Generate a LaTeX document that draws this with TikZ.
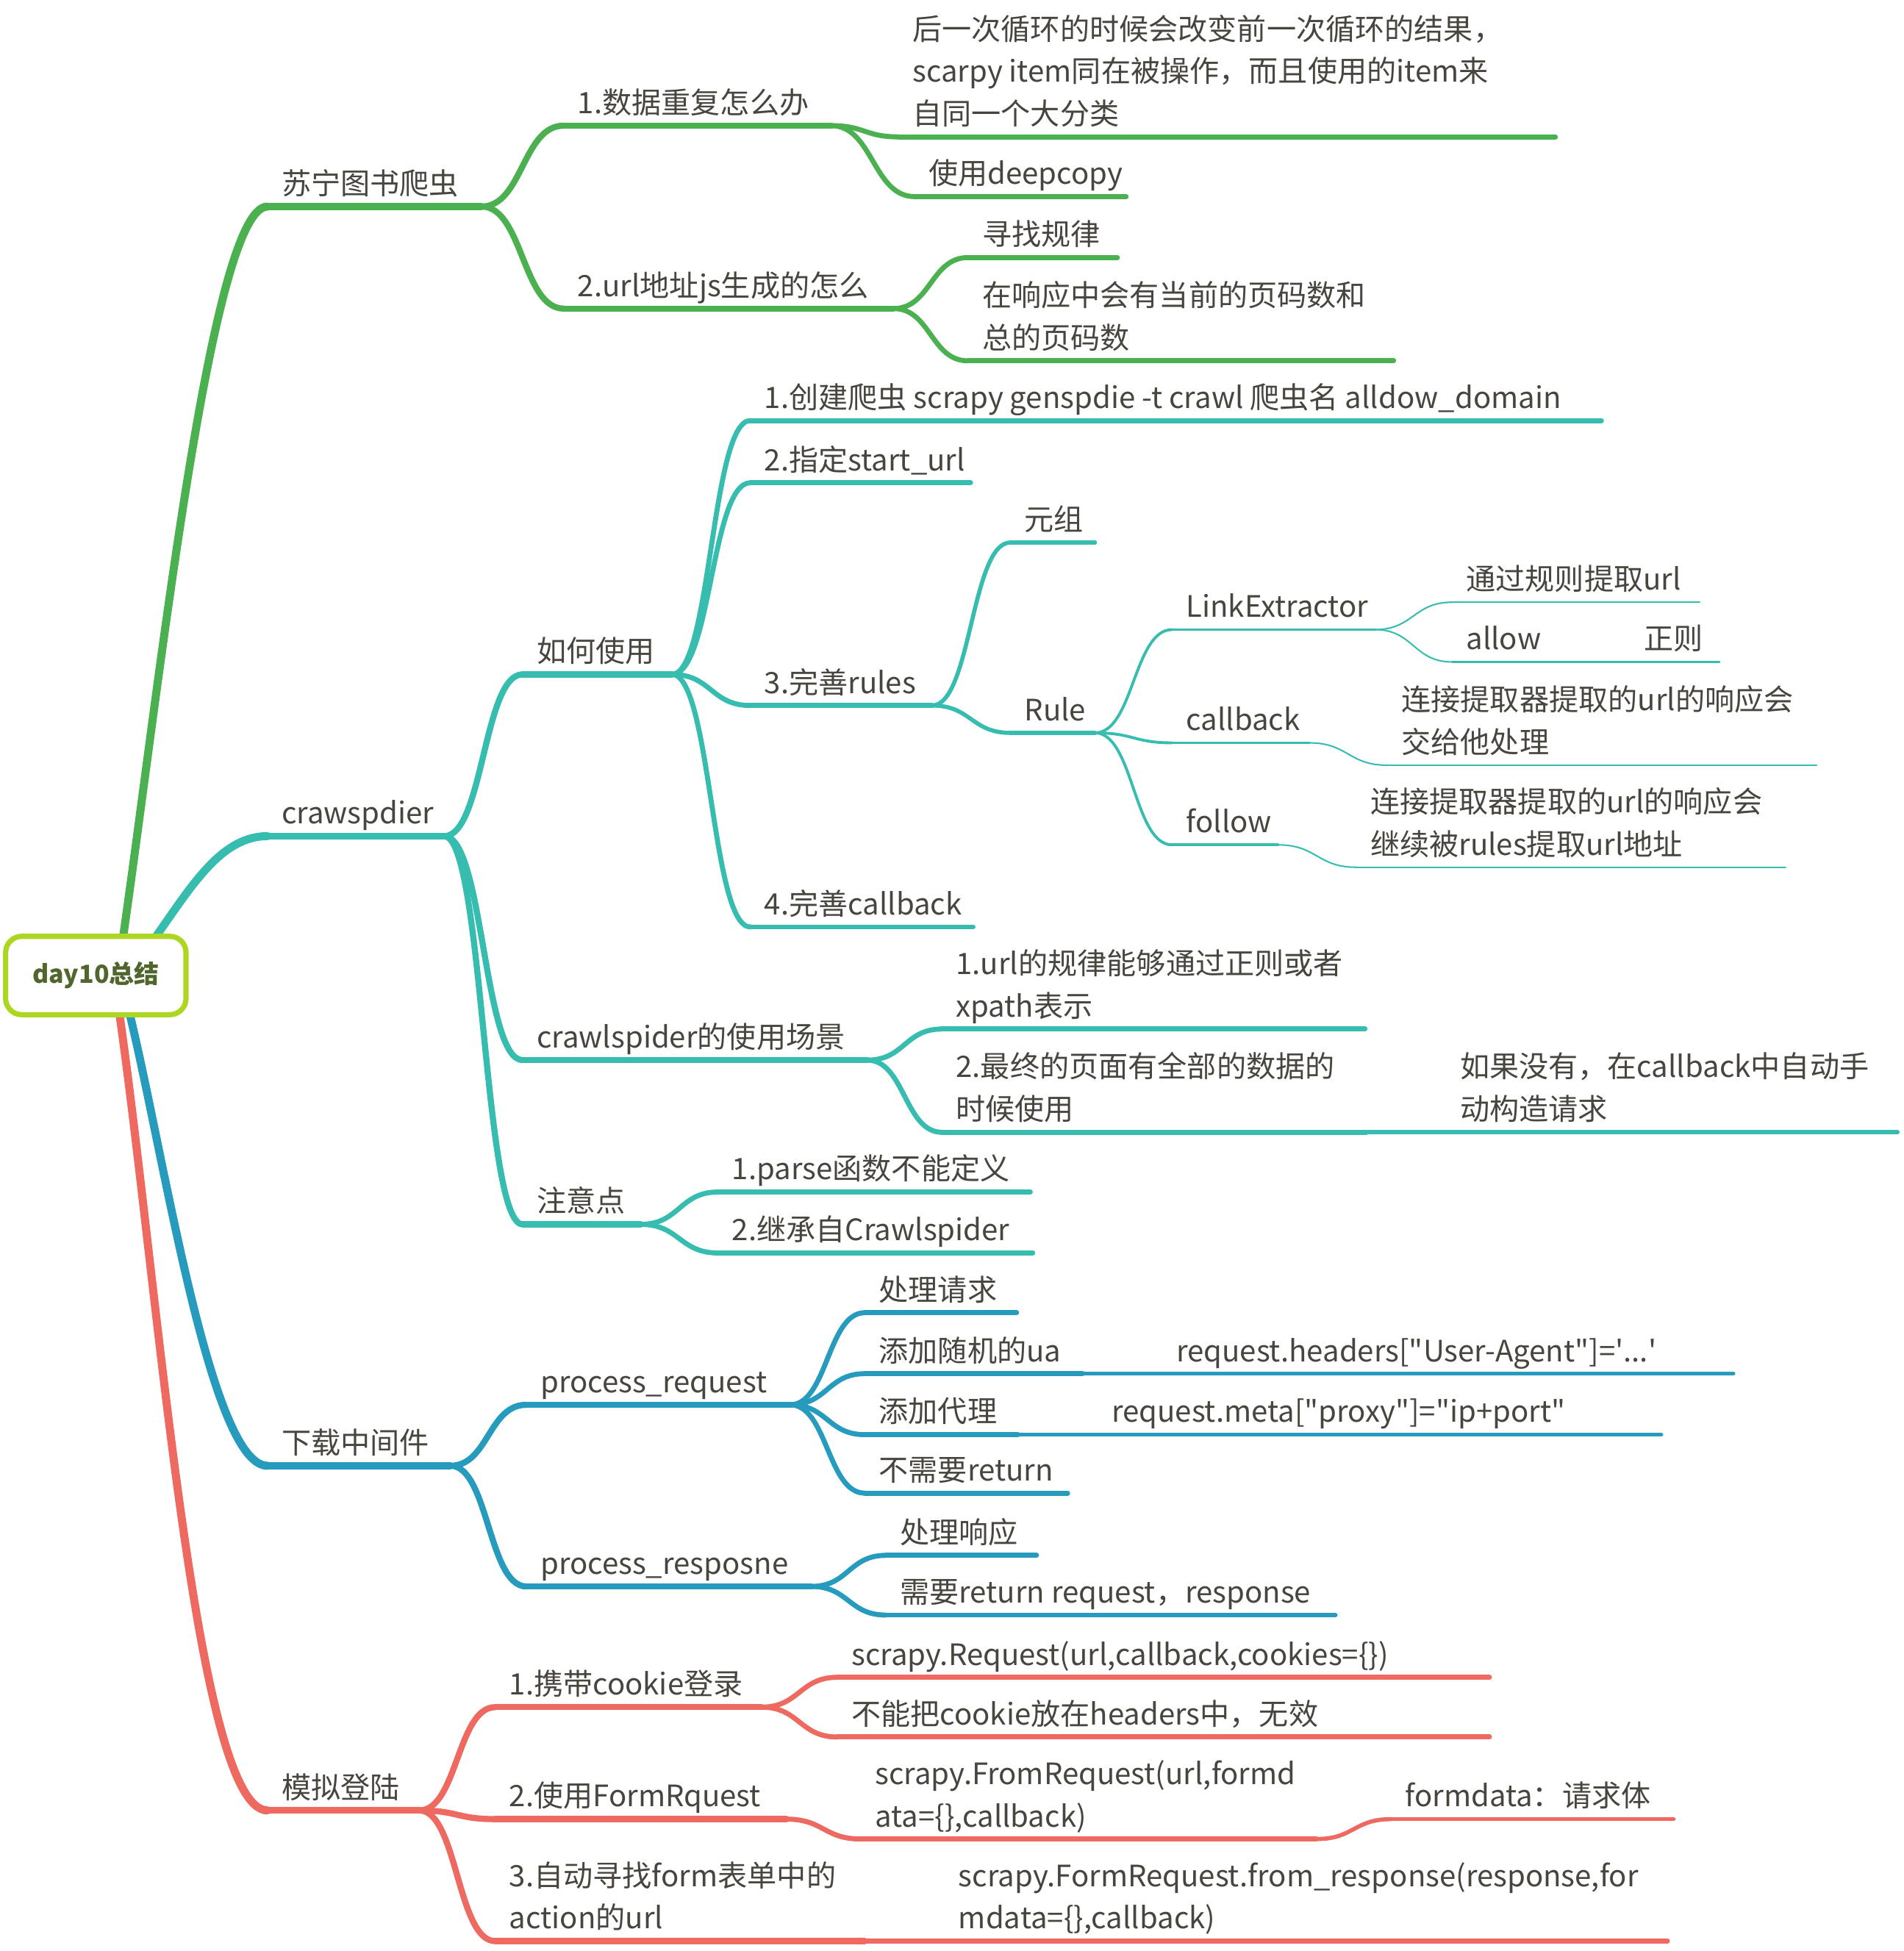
\documentclass[tikz,border=0pt]{standalone}
\usepackage{fontspec}
\setmainfont{Noto Sans CJK SC}
\usepackage{tikz}
\usetikzlibrary{calc,backgrounds}
\definecolor{ink}{RGB}{72,68,62}
\definecolor{brgreen}{RGB}{74,176,80}
\definecolor{brteal}{RGB}{55,188,176}
\definecolor{brblue}{RGB}{38,155,190}
\definecolor{brred}{RGB}{238,106,96}
\definecolor{rootline}{RGB}{173,214,35}
\definecolor{roottext}{RGB}{80,102,45}

\begin{document}
\begin{tikzpicture}[x=0.02cm,y=-0.02cm,font=\fontsize{13.5}{19.4}\selectfont,
  tx/.style={anchor=south west,inner xsep=0.22cm,inner ysep=0pt,align=left,text=ink,
    execute at end node={\rule[-5.4pt]{0pt}{5.4pt}}},
  far/.style={inner xsep=1.5cm},
  root/.style={draw=rootline,line width=2.4pt,rounded corners=0.26cm,fill=white,
    minimum width=2.9cm,minimum height=1.26cm,text=roottext,
    font=\fontsize{11.4}{14}\selectfont\bfseries},
  cv/.style={to path={let \p1=(\tikztostart),\p2=(\tikztotarget) in
    .. controls ({(\x1+\x2)/2},\y1) and ({(\x1+\x2)/2},\y2) .. (\tikztotarget)}},
  lr/.style={line width=3.7pt,line cap=round},
  l1/.style={line width=3.1pt,line cap=round},
  l2/.style={line width=2.8pt,line cap=round},
  l3/.style={line width=2.3pt,line cap=round},
  l4/.style={line width=1.9pt,line cap=round},
  l5/.style={line width=1.3pt,line cap=round},
  l6/.style={line width=0.7pt,line cap=round}]
  \useasboundingbox (0,0) rectangle (1530,1568);

  % centre
  \node[root] (root) at (77,784) {day10总结};
  \coordinate (rg) at ($(root.center)+(18,-4)$);
  \coordinate (rt) at ($(root.center)+(28,-4)$);
  \coordinate (rb) at ($(root.center)+(20,4)$);
  \coordinate (rr) at ($(root.center)+(15,4)$);

  % 苏宁图书爬虫
  \begin{scope}[color=brgreen]
  \node[tx] (g0) at (215,166) {苏宁图书爬虫};
  \draw[l1] (g0.south west) -- ++(172,0) coordinate (g0e);
  \node[tx] (g1) at (453,101) {1.数据重复怎么办};
  \draw[l2] (g1.south west) -- ++(215,0) coordinate (g1e);
  \node[tx] (g11) at (722,110) {后一次循环的时候会改变前一次循环的结果，\\scarpy item同在被操作，而且使用的item来\\自同一个大分类};
  \draw[l3] (g11.south west) -- ++(528,0) coordinate (g11e);
  \node[tx] (g12) at (735,158) {使用deepcopy};
  \draw[l3] (g12.south west) -- ++(170,0) coordinate (g12e);
  \node[tx] (g2) at (453,248) {2.url地址js生成的怎么};
  \draw[l2] (g2.south west) -- ++(265,0) coordinate (g2e);
  \node[tx] (g21) at (778,207) {寻找规律};
  \draw[l3] (g21.south west) -- ++(120,0) coordinate (g21e);
  \node[tx] (g22) at (778,290) {在响应中会有当前的页码数和\\总的页码数};
  \draw[l3] (g22.south west) -- ++(342,0) coordinate (g22e);
  \draw[l2] (g0e) to[cv] (g1.south west);
  \draw[l2] (g0e) to[cv] (g2.south west);
  \draw[l3] (g1e) to[cv] (g11.south west);
  \draw[l3] (g1e) to[cv] (g12.south west);
  \draw[l3] (g2e) to[cv] (g21.south west);
  \draw[l3] (g2e) to[cv] (g22.south west);
  \end{scope}

  % crawspdier
  \begin{scope}[color=brteal]
  \node[tx] (t0) at (215,672) {crawspdier};
  \draw[l1] (t0.south west) -- ++(142,0) coordinate (t0e);
  \node[tx] (t1) at (420,542) {如何使用};
  \draw[l2] (t1.south west) -- ++(120,0) coordinate (t1e);
  \node[tx] (t11) at (603,338) {1.创建爬虫 scrapy genspdie -t crawl 爬虫名 alldow\_domain};
  \draw[l3] (t11.south west) -- ++(684,0) coordinate (t11e);
  \node[tx] (t12) at (603,388) {2.指定start\_url};
  \draw[l3] (t12.south west) -- ++(177,0) coordinate (t12e);
  \node[tx] (t13) at (603,567) {3.完善rules};
  \draw[l3] (t13.south west) -- ++(146,0) coordinate (t13e);
  \node[tx] (t131) at (812,436) {元组};
  \draw[l4] (t131.south west) -- ++(68,0) coordinate (t131e);
  \node[tx] (t132) at (812,589) {Rule};
  \draw[l4] (t132.south west) -- ++(68,0) coordinate (t132e);
  \node[tx] (t1321) at (942,506) {LinkExtractor};
  \draw[l5] (t1321.south west) -- ++(163,0) coordinate (t1321e);
  \node[tx] (t13211) at (1167,484) {通过规则提取url};
  \draw[l6] (t13211.south west) -- ++(199,0) coordinate (t13211e);
  \node[tx] (t13212) at (1167,532) {\makebox[2.86cm][l]{allow}正则};
  \draw[l6] (t13212.south west) -- ++(215,0) coordinate (t13212e);
  \node[tx] (t1322) at (942,597) {callback};
  \draw[l5] (t1322.south west) -- ++(110,0) coordinate (t1322e);
  \node[tx] (t13221) at (1115,615) {连接提取器提取的url的响应会\\交给他处理};
  \draw[l6] (t13221.south west) -- ++(345,0) coordinate (t13221e);
  \node[tx] (t1323) at (942,679) {follow};
  \draw[l5] (t1323.south west) -- ++(85,0) coordinate (t1323e);
  \node[tx] (t13231) at (1090,697) {连接提取器提取的url的响应会\\继续被rules提取url地址};
  \draw[l6] (t13231.south west) -- ++(345,0) coordinate (t13231e);
  \node[tx] (t14) at (603,745) {4.完善callback};
  \draw[l3] (t14.south west) -- ++(179,0) coordinate (t14e);
  \node[tx] (t2) at (420,852) {crawlspider的使用场景};
  \draw[l2] (t2.south west) -- ++(277,0) coordinate (t2e);
  \node[tx] (t21) at (757,827) {1.url的规律能够通过正则或者\\xpath表示};
  \draw[l3] (t21.south west) -- ++(340,0) coordinate (t21e);
  \node[tx] (t22) at (757,910) {2.最终的页面有全部的数据的\\时候使用};
  \draw[l3] (t22.south west) -- ++(341,0) coordinate (t22e);
  \node[tx,far] (t221) at (t22e) {如果没有，在callback中自动手\\动构造请求};
  \draw[l4] (t221.south west) -- ++(427,0) coordinate (t221e);
  \node[tx] (t3) at (420,984) {注意点};
  \draw[l2] (t3.south west) -- ++(95,0) coordinate (t3e);
  \node[tx] (t31) at (577,958) {1.parse函数不能定义};
  \draw[l3] (t31.south west) -- ++(251,0) coordinate (t31e);
  \node[tx] (t32) at (577,1007) {2.继承自Crawlspider};
  \draw[l3] (t32.south west) -- ++(253,0) coordinate (t32e);
  \draw[l2] (t0e) to[cv] (t1.south west);
  \draw[l2] (t0e) to[cv] (t2.south west);
  \draw[l2] (t0e) to[cv] (t3.south west);
  \draw[l3] (t1e) to[cv] (t11.south west);
  \draw[l3] (t1e) to[cv] (t12.south west);
  \draw[l3] (t1e) to[cv] (t13.south west);
  \draw[l3] (t1e) to[cv] (t14.south west);
  \draw[l4] (t13e) to[cv] (t131.south west);
  \draw[l4] (t13e) to[cv] (t132.south west);
  \draw[l5] (t132e) to[cv] (t1321.south west);
  \draw[l5] (t132e) to[cv] (t1322.south west);
  \draw[l5] (t132e) to[cv] (t1323.south west);
  \draw[l6] (t1321e) to[cv] (t13211.south west);
  \draw[l6] (t1321e) to[cv] (t13212.south west);
  \draw[l6] (t1322e) to[cv] (t13221.south west);
  \draw[l6] (t1323e) to[cv] (t13231.south west);
  \draw[l3] (t2e) to[cv] (t21.south west);
  \draw[l3] (t2e) to[cv] (t22.south west);
  \draw[l3] (t3e) to[cv] (t31.south west);
  \draw[l3] (t3e) to[cv] (t32.south west);
  \end{scope}

  % 下载中间件
  \begin{scope}[color=brblue]
  \node[tx] (b0) at (215,1178) {下载中间件};
  \draw[l1] (b0.south west) -- ++(147,0) coordinate (b0e);
  \node[tx] (b1) at (423,1129) {process\_request};
  \draw[l2] (b1.south west) -- ++(212,0) coordinate (b1e);
  \node[tx] (b11) at (695,1055) {处理请求};
  \draw[l3] (b11.south west) -- ++(122,0) coordinate (b11e);
  \node[tx] (b12) at (695,1104) {添加随机的ua};
  \draw[l3] (b12.south west) -- ++(175,0) coordinate (b12e);
  \node[tx,far] (b121) at (b12e) {request.headers[\textquotedbl User-Agent\textquotedbl]=\textquotesingle...\textquotesingle};
  \draw[l4] (b121.south west) -- ++(523,0) coordinate (b121e);
  \node[tx] (b13) at (695,1153) {添加代理};
  \draw[l3] (b13.south west) -- ++(123,0) coordinate (b13e);
  \node[tx,far] (b131) at (b13e) {request.meta[\textquotedbl proxy\textquotedbl]=\textquotedbl ip+port\textquotedbl};
  \draw[l4] (b131.south west) -- ++(517,0) coordinate (b131e);
  \node[tx] (b14) at (695,1200) {不需要return};
  \draw[l3] (b14.south west) -- ++(163,0) coordinate (b14e);
  \node[tx] (b2) at (423,1275) {process\_resposne};
  \draw[l2] (b2.south west) -- ++(229,0) coordinate (b2e);
  \node[tx] (b21) at (712,1250) {处理响应};
  \draw[l3] (b21.south west) -- ++(121,0) coordinate (b21e);
  \node[tx] (b22) at (712,1298) {需要return request，response};
  \draw[l3] (b22.south west) -- ++(361,0) coordinate (b22e);
  \draw[l2] (b0e) to[cv] (b1.south west);
  \draw[l2] (b0e) to[cv] (b2.south west);
  \draw[l3] (b1e) to[cv] (b11.south west);
  \draw[l3] (b1e) to[cv] (b12.south west);
  \draw[l3] (b1e) to[cv] (b13.south west);
  \draw[l3] (b1e) to[cv] (b14.south west);
  \draw[l3] (b2e) to[cv] (b21.south west);
  \draw[l3] (b2e) to[cv] (b22.south west);
  \end{scope}

  % 模拟登陆
  \begin{scope}[color=brred]
  \node[tx] (r0) at (215,1455) {模拟登陆};
  \draw[l1] (r0.south west) -- ++(122,0) coordinate (r0e);
  \node[tx] (r1) at (398,1372) {1.携带cookie登录};
  \draw[l2] (r1.south west) -- ++(214,0) coordinate (r1e);
  \node[tx] (r11) at (673,1348) {scrapy.Request(url,callback,cookies=\{\})};
  \draw[l3] (r11.south west) -- ++(524,0) coordinate (r11e);
  \node[tx] (r12) at (673,1396) {不能把cookie放在headers中，无效};
  \draw[l3] (r12.south west) -- ++(524,0) coordinate (r12e);
  \node[tx] (r2) at (398,1462) {2.使用FormRquest};
  \draw[l2] (r2.south west) -- ++(234,0) coordinate (r2e);
  \node[tx] (r21) at (692,1478) {scrapy.FromRequest(url,formd\\ata=\{\},callback)};
  \draw[l3] (r21.south west) -- ++(366,0) coordinate (r21e);
  \node[tx] (r211) at (1118,1462) {formdata：请求体};
  \draw[l4] (r211.south west) -- ++(227,0) coordinate (r211e);
  \node[tx] (r3) at (398,1560) {3.自动寻找form表单中的\\action的url};
  \draw[l2] (r3.south west) -- ++(297,0) coordinate (r3e);
  \node[tx,far] (r31) at (r3e) {scrapy.FormRequest.from\_response(response,for\\mdata=\{\},callback)};
  \draw[l3] (r31.south west) -- ++(645,0) coordinate (r31e);
  \draw[l2] (r0e) to[cv] (r1.south west);
  \draw[l2] (r0e) to[cv] (r2.south west);
  \draw[l2] (r0e) to[cv] (r3.south west);
  \draw[l3] (r1e) to[cv] (r11.south west);
  \draw[l3] (r1e) to[cv] (r12.south west);
  \draw[l3] (r2e) to[cv] (r21.south west);
  \draw[l4] (r21e) to[cv] (r211.south west);
  \end{scope}

  % main branches behind the centre box
  \begin{scope}[on background layer]
  \draw[lr,brgreen] (rg) .. controls (125,580) and (168,166) .. (g0.south west);
  \draw[lr,brteal] (rt) .. controls (145,730) and (170,672) .. (t0.south west);
  \draw[lr,brblue] (rb) .. controls (125,880) and (165,1178) .. (b0.south west);
  \draw[lr,brred] (rr) .. controls (125,1000) and (155,1455) .. (r0.south west);
  \end{scope}
\end{tikzpicture}
\end{document}
